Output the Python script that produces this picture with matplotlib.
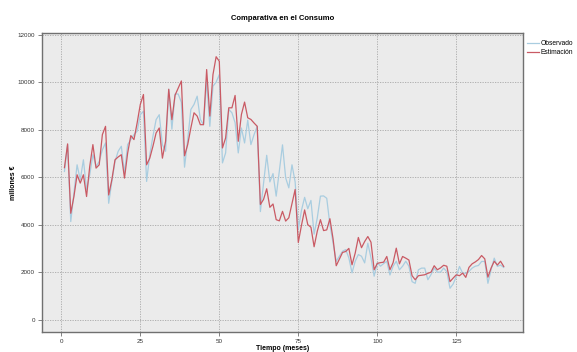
import numpy as np
import matplotlib
matplotlib.use('Agg')
import matplotlib.pyplot as plt
from matplotlib.ticker import MultipleLocator

plt.rcParams['font.family'] = ['Liberation Sans', 'DejaVu Sans']

# monthly consumption, millions of euros
meses = np.arange(1, 141)

observado = [
    6240, 7370, 4130, 5325, 6520, 5890, 6730, 5470, 6100, 6945,
    6450, 6660, 7150, 7440, 4900, 5820, 6660, 7090, 7300, 6170,
    7370, 7580, 7790, 7930, 8630, 8775, 5820, 6945, 7720, 8420,
    8630, 7370, 7090, 9700, 8020, 9500, 9500, 9150, 6420, 7580,
    8850, 9060, 9410, 8430, 8210, 10040, 8140, 9830, 10000, 10320,
    6600, 7020, 8850, 8710, 8290, 7020, 8070, 7440, 8400, 7370,
    7790, 8140, 4550, 5720, 6920, 5800, 6150, 5200, 6260, 7360,
    5970, 5550, 6520, 5800, 3800, 4600, 5150, 4670, 5020, 3600,
    4280, 5200, 5210, 5110, 4000, 3230, 2460, 2670, 2880, 2950,
    2600, 1970, 2460, 2740, 2670, 2390, 3220, 2600, 1830, 2400,
    2250, 2360, 2460, 1880, 2250, 2460, 2100, 2250, 2460, 2250,
    1600, 1530, 2100, 2170, 2170, 1680, 1900, 2170, 2000, 2000,
    2170, 2020, 1320, 1500, 1820, 2240, 1960, 1950, 2030, 2170,
    2250, 2280, 2450, 2450, 1530, 2100, 2590, 2240, 2300, 2200,
]

estimacion = [
    6400, 7400, 4480, 5185, 6100, 5750, 6100, 5185, 6450, 7370,
    6380, 6520, 7790, 8140, 5250, 5890, 6730, 6850, 6945, 5960,
    7015, 7750, 7580, 8280, 9060, 9480, 6520, 6800, 7300, 7860,
    8070, 6800, 7510, 9700, 8420, 9450, 9750, 10050, 6900, 7370,
    8070, 8710, 8570, 8210, 8210, 10530, 8570, 10320, 11070, 10880,
    7230, 7650, 8920, 8920, 9440, 7510, 8640, 9160, 8500, 8430,
    8280, 8140, 4850, 5060, 5510, 4730, 4870, 4210, 4160, 4560,
    4150, 4290, 4880, 5480, 3250, 3970, 4620, 4000, 3890, 3070,
    3720, 4210, 3750, 3780, 4250, 3400, 2270, 2550, 2830, 2870,
    3000, 2310, 2800, 3460, 3030, 3290, 3500, 3260, 2100, 2370,
    2400, 2420, 2660, 2100, 2400, 3010, 2350, 2660, 2590, 2510,
    1850, 1680, 1850, 1870, 1890, 1950, 2000, 2270, 2100, 2180,
    2290, 2250, 1600, 1750, 1890, 1850, 1960, 1780, 2200, 2350,
    2430, 2530, 2700, 2560, 1790, 2170, 2460, 2300, 2460, 2240,
]

fig = plt.figure(figsize=(5.77, 3.52), dpi=100)
ax = fig.add_axes([0.0728, 0.0568, 0.8336, 0.8495])
ax.set_facecolor('#EBEBEB')

ax.plot(meses, observado, color='#A9CDE0', lw=0.9, label='Observado')
ax.plot(meses, estimacion, color='#C95A64', lw=0.9, label='Estimación')

ax.set_xlim(-6.1, 146.1)
ax.set_ylim(-520, 12070)
ax.xaxis.set_major_locator(MultipleLocator(25))
ax.yaxis.set_major_locator(MultipleLocator(2000))

ax.grid(True, color='#A8A8A8', linestyle=(0, (1.5, 1.5)), linewidth=0.6)
ax.set_axisbelow(True)
for s in ax.spines.values():
    s.set_color('#707070')
    s.set_linewidth(1.0)
ax.tick_params(direction='out', length=3, width=0.6, color='#6E6E6E',
               labelsize=4.5, labelcolor='#333333', pad=2)

ax.set_title('Comparativa en el Consumo', fontsize=5.5, fontweight='bold', pad=9)
ax.set_xlabel('Tiempo (meses)', fontsize=5, fontweight='bold', labelpad=1)
ax.set_ylabel('millones €', fontsize=5, fontweight='bold', labelpad=0.5)

fig.legend(loc='upper left', bbox_to_anchor=(0.913, 0.885), frameon=False,
           fontsize=4.8, handlelength=1.9, handletextpad=0.2, labelspacing=0.3,
           borderpad=0, borderaxespad=0)

fig.savefig('out.png', dpi=100)
